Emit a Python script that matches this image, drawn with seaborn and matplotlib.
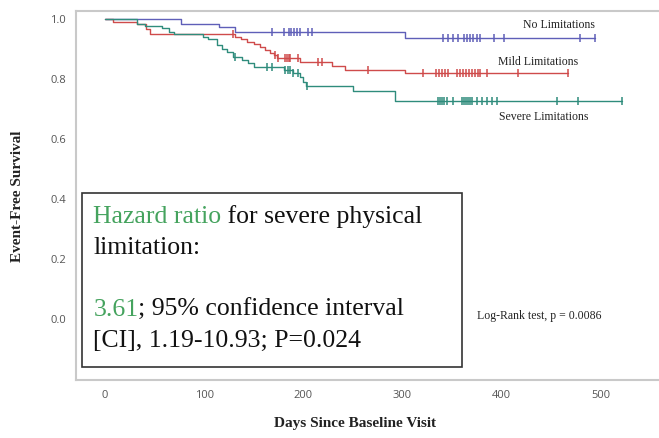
import numpy as np
import pandas as pd
import matplotlib
matplotlib.use("Agg")
import matplotlib.pyplot as plt
import seaborn as sns
from matplotlib.patches import Rectangle

# ---------------- data ----------------
groups = ["No Limitations", "Mild Limitations", "Severe Limitations"]
colors = ["#5f5fb8", "#cf4b4b", "#2f8c7c"]

no_days = [0, 77, 115, 131, 303, 494]
no_surv = [1.0, 0.982, 0.973, 0.957, 0.935, 0.935]
no_cens = [168, 180, 185, 188, 191, 194, 197, 205, 209, 341, 346, 351, 356,
           362, 365, 368, 371, 375, 378, 392, 402, 479, 494]

mild_days = [0, 8, 32, 41, 45, 131, 137, 143, 150, 156, 161, 166, 170, 173,
             197, 229, 242, 303, 467]
mild_surv = [1.0, 0.990, 0.981, 0.965, 0.949, 0.940, 0.932, 0.923, 0.914,
             0.905, 0.896, 0.887, 0.878, 0.868, 0.857, 0.842, 0.829, 0.818, 0.818]
mild_cens = [129, 171, 174, 181, 183, 185, 187, 195, 215, 219, 265, 321, 334,
             337, 340, 343, 346, 355, 358, 361, 364, 367, 370, 373, 376, 378,
             385, 417, 467]

sev_days = [0, 32, 40, 57, 64, 69, 99, 104, 113, 118, 123, 129, 138, 144, 150,
            180, 190, 197, 200, 203, 250, 292, 521]
sev_surv = [1.0, 0.984, 0.976, 0.968, 0.957, 0.949, 0.940, 0.931, 0.912, 0.898,
            0.890, 0.873, 0.862, 0.851, 0.840, 0.829, 0.820, 0.807, 0.790,
            0.775, 0.758, 0.725, 0.725]
sev_cens = [131, 163, 168, 181, 184, 187, 190, 195, 204, 336, 338, 340, 342,
            345, 351, 360, 362, 364, 366, 368, 370, 375, 380, 385, 390, 395,
            456, 477, 521]

x_ticks = [0, 100, 200, 300, 400, 500]
y_ticks = [0.0, 0.2, 0.4, 0.6, 0.8, 1.0]

# ---------------- tables ----------------
curves = []
cens = []
for g, d, s, c in [(groups[0], no_days, no_surv, no_cens),
                   (groups[1], mild_days, mild_surv, mild_cens),
                   (groups[2], sev_days, sev_surv, sev_cens)]:
    curves.append(pd.DataFrame({"day": d, "surv": s, "group": g}))
    d_arr = np.asarray(d)
    s_arr = np.asarray(s)
    idx = np.searchsorted(d_arr, np.asarray(c), side="right") - 1
    cens.append(pd.DataFrame({"day": c, "surv": s_arr[idx], "group": g}))
curves = pd.concat(curves, ignore_index=True)
cens = pd.concat(cens, ignore_index=True)
palette = dict(zip(groups, colors))

# ---------------- figure ----------------
sns.set_style("white")
W, H = 659, 438
fig = plt.figure(figsize=(W / 100, H / 100), dpi=100)
ax = fig.add_axes([76 / W, 1 - 380 / H, (W - 76) / W, (380 - 11) / H])

sns.lineplot(data=curves, x="day", y="surv", hue="group", palette=palette,
             estimator=None, sort=False, drawstyle="steps-post",
             linewidth=1.0, legend=False, ax=ax)
sns.scatterplot(data=cens, x="day", y="surv", hue="group", palette=palette,
                marker="|", s=32, linewidth=1.1, legend=False, ax=ax, zorder=3)

ax.set_xlim(-29.4, 558.8)
ax.set_ylim(-0.205, 1.0257)
ax.set_xticks(x_ticks)
ax.set_yticks(y_ticks)
ax.set_xticklabels([str(t) for t in x_ticks])
ax.set_yticklabels([f"{t:.1f}" for t in y_ticks])
ax.set_xlabel("")
ax.set_ylabel("")
for side in ["left", "bottom", "top"]:
    ax.spines[side].set_color("#c9c9c9")
    ax.spines[side].set_linewidth(1.5)
ax.spines["right"].set_visible(False)
ax.tick_params(axis="both", direction="out", length=4, width=1,
               color="#b5b5b5", labelcolor="#555555", labelsize=8, pad=3)
for lab in ax.get_xticklabels() + ax.get_yticklabels():
    lab.set_family("Open Sans")

serif = "Liberation Serif"


def fx(px):
    return px / W


def fy(py):
    return 1 - py / H


# group labels
fig.text(fx(595), fy(25), "No Limitations", ha="right", va="center",
         family=serif, fontsize=8.5, color="#222222")
fig.text(fx(578), fy(62), "Mild Limitations", ha="right", va="center",
         family=serif, fontsize=8.5, color="#222222")
fig.text(fx(588), fy(117), "Severe Limitations", ha="right", va="center",
         family=serif, fontsize=8.5, color="#222222")
fig.text(fx(477), fy(316), "Log-Rank test, p = 0.0086", ha="left",
         va="center", family=serif, fontsize=8.5, color="#222222")

# axis titles
fig.text(fx(18), fy(196), "Event-Free Survival", rotation=90, ha="center",
         va="center", family=serif, fontsize=11, fontweight="bold",
         color="#222222")
fig.text(fx(355), fy(424), "Days Since Baseline Visit", ha="center",
         va="center", family=serif, fontsize=11, fontweight="bold",
         color="#222222")

# annotation box
box = Rectangle((fx(81.7), fy(367.3)), fx(462) - fx(81.7),
                fy(192.7) - fy(367.3), transform=fig.transFigure,
                facecolor="white", edgecolor="#333333", linewidth=1.2,
                zorder=5)
fig.add_artist(box)

green = "#45a35e"
fs = 18.5
fig.canvas.draw()
renderer = fig.canvas.get_renderer()


def colored_line(y, parts):
    x = fx(93.3)
    for txt, col in parts:
        t = fig.text(x, fy(y), txt, ha="left", va="center", family=serif,
                     fontsize=fs, color=col, zorder=6)
        bb = t.get_window_extent(renderer=renderer)
        x = bb.x1 / (W)


colored_line(217, [("Hazard ratio", green), (" for severe physical", "#111111")])
colored_line(248.5, [("limitation:", "#111111")])
colored_line(310, [("3.61", green), ("; 95% confidence interval", "#111111")])
colored_line(341, [("[CI], 1.19-10.93; P=0.024", "#111111")])

fig.savefig("out.png", dpi=100)
